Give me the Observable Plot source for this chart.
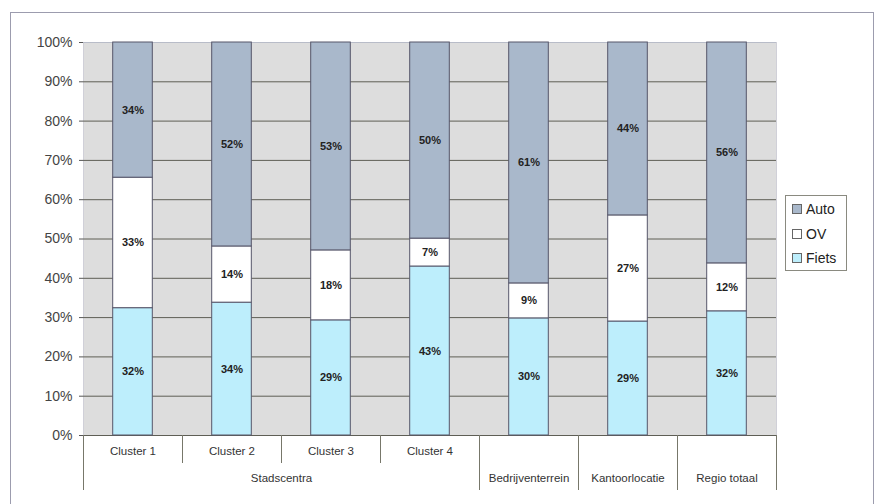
<!DOCTYPE html>
<html>
<head>
<meta charset="utf-8">
<script src="https://cdn.jsdelivr.net/npm/d3@7"></script>
<script src="https://cdn.jsdelivr.net/npm/@observablehq/plot@0.6"></script>
<style>
  html, body { margin: 0; padding: 0; background: #fff; }
  #wrap { position: relative; width: 878px; height: 504px; overflow: hidden; font-family: "Liberation Sans", Arial, sans-serif; }
  #border { position: absolute; left: 10px; top: 12px; width: 864px; height: 520px; border: 1.5px solid #9c9cae; box-sizing: border-box; }
  #chart { position: absolute; left: 0; top: 0; }
  #legend { position: absolute; left: 785px; top: 195px; width: 62px; height: 76px; border: 1px solid #8a8a80; box-sizing: border-box; background: #fff; font-size: 14px; color: #222; padding-top: 1px; }
  #legend .item { display: flex; align-items: center; height: 24.5px; padding-left: 6px; }
  #legend .sw { width: 8px; height: 8px; border: 1px solid #666; margin-right: 4px; }
</style>
</head>
<body>
<div id="wrap">
  <div id="border"></div>
  <div id="chart"></div>
  <div id="legend"></div>
</div>
<script>
// ---- data ----
const clusterLabels = ["Cluster 1", "Cluster 2", "Cluster 3", "Cluster 4", "", "", ""];
const groupLabels = ["Stadscentra", "Bedrijventerrein", "Kantoorlocatie", "Regio totaal"];
const groupStart = [0, 4, 5, 6];
const groupEnd = [4, 5, 6, 7];
const modes = ["Fiets", "OV", "Auto"]; // bottom to top
const fiets = [32.4, 33.8, 29.3, 43.0, 29.8, 29.0, 31.6];
const ov    = [33.2, 14.3, 17.8, 7.1, 8.9, 27.0, 12.2];
const auto  = [34.4, 51.9, 52.9, 49.9, 61.3, 44.0, 56.2];
const yTicks = [0, 10, 20, 30, 40, 50, 60, 70, 80, 90, 100];
const legendOrder = ["Auto", "OV", "Fiets"];
const colors = {Auto: "#a9b8cb", OV: "#ffffff", Fiets: "#bdeefc"};

// ---- build table ----
const series = {Fiets: fiets, OV: ov, Auto: auto};
const rows = [];
clusterLabels.forEach((c, i) => {
  let base = 0;
  for (const m of modes) {
    const v = series[m][i];
    rows.push({i, mode: m, value: v, y1: base, y2: base + v});
    base += v;
  }
});
const seps = d3.range(0, clusterLabels.length + 1);
const longSeps = [0, ...groupEnd];
const shortSeps = seps.filter(s => !longSeps.includes(s));
const cats = clusterLabels.map((label, i) => ({i, label}));
const groups = groupLabels.map((label, k) => ({label, mid: (groupStart[k] + groupEnd[k]) / 2}));

const W = 878, H = 504, ML = 83, MR = 102, MT = 42, MB = 69;
const frameH = H - MT - MB;

const plot = Plot.plot({
  width: W, height: H,
  marginLeft: ML, marginRight: MR, marginTop: MT, marginBottom: MB,
  style: {fontFamily: "'Liberation Sans', Arial, sans-serif", background: "transparent", overflow: "visible"},
  x: {domain: [0, clusterLabels.length], axis: null},
  y: {domain: [0, 100], axis: null},
  marks: [
    Plot.frame({fill: "#dddddd", stroke: "#d0d0d8"}),
    Plot.ruleY(yTicks.filter(t => t < 100), {y: d => d, stroke: "#5e5e55", strokeWidth: 1}),
    Plot.ruleY([100], {stroke: "#b8bcc8", strokeWidth: 1}),
    Plot.rectY(rows, {
      x1: d => d.i + 0.3, x2: d => d.i + 0.7, y1: "y1", y2: "y2",
      fill: d => colors[d.mode], stroke: "#56566a", strokeWidth: 1
    }),
    Plot.text(rows, {
      x: d => d.i + 0.5, y: d => (d.y1 + d.y2) / 2,
      text: d => Math.round(d.value) + "%",
      fontWeight: "bold", fontSize: 11, fill: "#222"
    }),
    Plot.axisY({ticks: yTicks, tickFormat: d => d + "%", tickSize: 4, tickPadding: 7,
      fontSize: 14, fill: "#444", stroke: "#555"}),
    Plot.ruleX(shortSeps, {x: d => d, stroke: "#77776a", strokeWidth: 1, insetTop: frameH, insetBottom: -28}),
    Plot.ruleX(longSeps, {x: d => d, stroke: "#77776a", strokeWidth: 1, insetTop: frameH, insetBottom: -55}),
    Plot.text(cats, {x: d => d.i + 0.5, frameAnchor: "bottom", dy: 19, text: "label",
      fontSize: 11.5, fill: "#333"}),
    Plot.text(groups, {x: "mid", frameAnchor: "bottom", dy: 46, text: "label",
      fontSize: 11.5, fill: "#333"})
  ]
});
document.getElementById("chart").appendChild(plot);

const leg = document.getElementById("legend");
for (const m of legendOrder) {
  const it = document.createElement("div");
  it.className = "item";
  const sw = document.createElement("span");
  sw.className = "sw";
  sw.style.background = colors[m];
  it.appendChild(sw);
  it.appendChild(document.createTextNode(m));
  leg.appendChild(it);
}
</script>
</body>
</html>
